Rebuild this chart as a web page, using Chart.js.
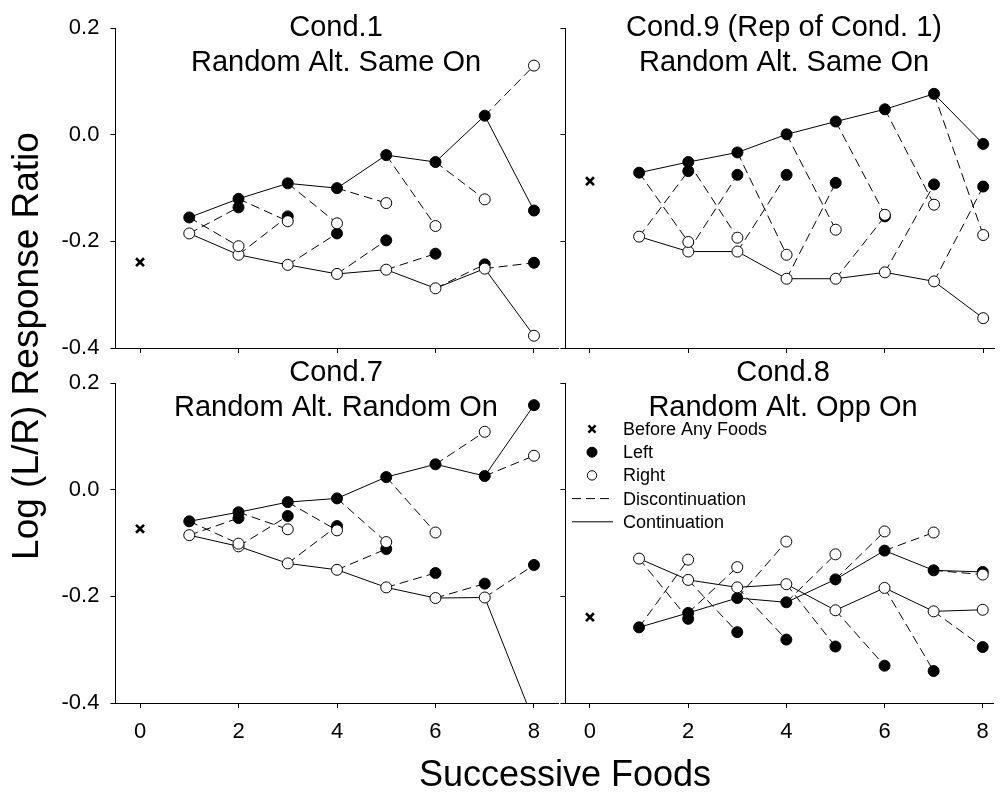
<!DOCTYPE html>
<html lang="en">
<head>
<meta charset="utf-8">
<title>Log (L/R) Response Ratio by Successive Foods</title>
<script src="https://cdn.jsdelivr.net/npm/chart.js@4.4.1/dist/chart.umd.min.js"></script>
<style>
  html, body { margin: 0; padding: 0; background: #fff; }
  #figure { position: relative; width: 1000px; height: 793px; overflow: hidden; background: #fff; }
  #figure canvas { position: absolute; left: 0; top: 0; }
</style>
</head>
<body>
<div id="figure">
  <canvas id="cond1" width="1000" height="793"></canvas>
  <canvas id="cond9" width="1000" height="793"></canvas>
  <canvas id="cond7" width="1000" height="793"></canvas>
  <canvas id="cond8" width="1000" height="793"></canvas>
</div>
<script>
// ---- data ---------------------------------------------------------------
const foods = [1, 2, 3, 4, 5, 6, 7, 8];          // successive foods on a run
const switchFoods = [2, 3, 4, 5, 6, 7, 8];       // foods reached after a switch
const xTickValues = [0, 2, 4, 6, 8];
const yTickValues = [0.2, 0.0, -0.2, -0.4];
const yTickLabels = ['0.2', '0.0', '-0.2', '-0.4'];

// Cond.1  Random Alt. Same On
const cond1Before = -0.239;
const cond1LeftCont = [-0.155, -0.120, -0.091, -0.100, -0.038, -0.051, 0.036, -0.142];
const cond1RightCont = [-0.185, -0.225, -0.244, -0.261, -0.253, -0.288, -0.251, -0.377];
const cond1LeftDisc = [-0.136, -0.153, -0.185, -0.198, -0.223, -0.243, -0.240];
const cond1RightDisc = [-0.209, -0.162, -0.166, -0.128, -0.171, -0.121, 0.130];

// Cond.9  (Rep of Cond. 1)
const cond9Before = -0.087;
const cond9LeftCont = [-0.071, -0.051, -0.033, 0.001, 0.025, 0.048, 0.077, -0.017];
const cond9RightCont = [-0.191, -0.219, -0.219, -0.270, -0.270, -0.258, -0.275, -0.344];
const cond9LeftDisc = [-0.068, -0.075, -0.075, -0.090, -0.153, -0.093, -0.097];
const cond9RightDisc = [-0.201, -0.193, -0.225, -0.178, -0.150, -0.131, -0.188];

// Cond.7  Random Alt. Random On
const cond7Before = -0.073;
const cond7LeftCont = [-0.059, -0.042, -0.023, -0.016, 0.024, 0.048, 0.026, 0.159];
const cond7RightCont = [-0.085, -0.106, -0.138, -0.150, -0.183, -0.203, -0.202, -0.435];
const cond7LeftDisc = [-0.053, -0.049, -0.068, -0.111, -0.156, -0.176, -0.141];
const cond7RightDisc = [-0.101, -0.074, -0.076, -0.098, -0.080, 0.109, 0.064];

// Cond.8  Random Alt. Opp On
const cond8Before = -0.239;
const cond8LeftCont = [-0.258, -0.231, -0.203, -0.211, -0.168, -0.114, -0.151, -0.154];
const cond8RightCont = [-0.129, -0.169, -0.183, -0.177, -0.226, -0.184, -0.228, -0.225];
const cond8LeftDisc = [-0.242, -0.267, -0.281, -0.294, -0.330, -0.340, -0.295];
const cond8RightDisc = [-0.131, -0.145, -0.097, -0.121, -0.078, -0.080, -0.159];

// ---- styling ------------------------------------------------------------
const INK = '#000';
const PAPER = '#fff';
const FONT = "'Liberation Sans', Arial, Helvetica, sans-serif";
const DASH = [9, 5];
const MARK_R = 5.5;

Chart.defaults.font.family = FONT;
Chart.defaults.color = INK;

// Text drawn straight onto a panel's canvas (titles, axis names).
function captionsPlugin(items) {
  return {
    id: 'captions',
    afterDraw(chart) {
      const ctx = chart.ctx;
      items.forEach(it => {
        ctx.save();
        ctx.font = it.size + 'px ' + FONT;
        ctx.fillStyle = INK;
        ctx.textAlign = it.align || 'center';
        ctx.textBaseline = it.baseline || 'alphabetic';
        ctx.translate(it.x, it.y);
        if (it.angle) ctx.rotate(it.angle);
        ctx.fillText(it.text, 0, 0);
        ctx.restore();
      });
    }
  };
}

// Key listing marker and line meanings.
function keyPlugin(key) {
  return {
    id: 'key',
    afterDatasetsDraw(chart) {
      const ctx = chart.ctx;
      key.items.forEach((it, i) => {
        const y = key.y0 + i * key.step;
        ctx.save();
        ctx.strokeStyle = INK;
        ctx.fillStyle = it.fill || INK;
        ctx.lineWidth = it.width || 1;
        if (it.line) {
          ctx.setLineDash(it.dash || []);
          ctx.beginPath();
          ctx.moveTo(key.lineX0, y);
          ctx.lineTo(key.lineX1, y);
          ctx.stroke();
        } else {
          Chart.helpers.drawPoint(ctx, {
            pointStyle: it.style, radius: it.radius, borderWidth: it.width || 1, rotation: 0
          }, key.markX, y);
        }
        ctx.setLineDash([]);
        ctx.font = key.size + 'px ' + FONT;
        ctx.fillStyle = INK;
        ctx.textAlign = 'left';
        ctx.textBaseline = 'middle';
        ctx.fillText(it.text, key.textX, y + 1);
        ctx.restore();
      });
    }
  };
}

function buildDatasets(s) {
  const pairs = (xs, ys) => xs.map((x, i) => ({ x: x, y: ys[i] }));
  // one dashed stroke from a run's food to the switched food that follows it
  const links = (fromYs, toYs) => {
    const out = [];
    switchFoods.forEach((f, i) => {
      out.push({ x: f - 1, y: fromYs[i] }, { x: f, y: toYs[i] }, { x: f, y: null });
    });
    return out;
  };
  const lineBase = { showLine: true, pointRadius: 0, borderColor: INK, borderWidth: 1, spanGaps: false, clip: 0 };
  return [
    { label: 'Right', data: pairs(foods, s.rightCont).concat(pairs(switchFoods, s.rightDisc)),
      showLine: false, pointStyle: 'circle', pointRadius: MARK_R, pointBackgroundColor: PAPER,
      pointBorderColor: INK, pointBorderWidth: 1, clip: 0 },
    { label: 'Left', data: pairs(foods, s.leftCont).concat(pairs(switchFoods, s.leftDisc)),
      showLine: false, pointStyle: 'circle', pointRadius: MARK_R, pointBackgroundColor: INK,
      pointBorderColor: INK, pointBorderWidth: 1, clip: 0 },
    { label: 'Before Any Foods', data: [{ x: 0, y: s.before }],
      showLine: false, pointStyle: 'crossRot', pointRadius: 5.6, pointBackgroundColor: INK,
      pointBorderColor: INK, pointBorderWidth: 2.6, clip: 0 },
    Object.assign({ label: 'Left continuation', data: pairs(foods, s.leftCont) }, lineBase),
    Object.assign({ label: 'Right continuation', data: pairs(foods, s.rightCont) }, lineBase),
    Object.assign({ label: 'Left to right', data: links(s.leftCont, s.rightDisc), borderDash: DASH }, lineBase),
    Object.assign({ label: 'Right to left', data: links(s.rightCont, s.leftDisc), borderDash: DASH }, lineBase)
  ];
}

const axisLook = {
  grid: { drawOnChartArea: false, drawTicks: true, tickLength: 5, color: INK, lineWidth: 1 },
  border: { display: true, color: INK, width: 1 }
};

const W = 1000, H = 793;
const TITLE_SIZE = 29;

// Axis boxes keep room for their labels (labels are clipped to the box).
function axisSizes(p) {
  return {
    yWidth: p.yLabels ? p.area.left : 0,
    xHeight: p.xLabels ? H - p.area.bottom : 0
  };
}

function buildScales(p) {
  const sz = axisSizes(p);
  return {
    x: Object.assign({
      type: 'linear', position: 'bottom', min: -0.5, max: p.xMax,
      afterFit(scale) { scale.height = sz.xHeight; },
      afterBuildTicks(scale) { scale.ticks = xTickValues.map(v => ({ value: v })); },
      ticks: { display: p.xLabels, font: { size: 22 }, padding: 11, color: INK,
               maxRotation: 0, autoSkip: false, callback: v => String(v) }
    }, axisLook),
    y: Object.assign({
      type: 'linear', position: 'left', min: -0.4, max: 0.2,
      afterFit(scale) { scale.width = sz.yWidth; },
      afterBuildTicks(scale) { scale.ticks = yTickValues.map(v => ({ value: v })); },
      ticks: { display: p.yLabels, font: { size: 22 }, padding: 11, color: INK,
               callback: v => yTickLabels[yTickValues.indexOf(v)] }
    }, axisLook)
  };
}

const panels = [
  { canvas: 'cond1', title: ['Cond.1', 'Random Alt. Same On'], titleX: 336, titleBase: [36, 71],
    area: { left: 115.4, top: 28.3, right: 558.6, bottom: 348 }, xMax: 8.5, xLabels: false, yLabels: true,
    series: { before: cond1Before, leftCont: cond1LeftCont, rightCont: cond1RightCont, leftDisc: cond1LeftDisc, rightDisc: cond1RightDisc } },
  { canvas: 'cond9', title: ['Cond.9 (Rep of Cond. 1)', 'Random Alt. Same On'], titleX: 784, titleBase: [36, 71],
    area: { left: 565.4, top: 28.3, right: 994, bottom: 348 }, xMax: 8.22, xLabels: false, yLabels: false,
    series: { before: cond9Before, leftCont: cond9LeftCont, rightCont: cond9RightCont, leftDisc: cond9LeftDisc, rightDisc: cond9RightDisc } },
  { canvas: 'cond7', title: ['Cond.7', 'Random Alt. Random On'], titleX: 336, titleBase: [381, 416],
    area: { left: 115.4, top: 383.3, right: 558.6, bottom: 703 }, xMax: 8.5, xLabels: true, yLabels: true,
    series: { before: cond7Before, leftCont: cond7LeftCont, rightCont: cond7RightCont, leftDisc: cond7LeftDisc, rightDisc: cond7RightDisc } },
  { canvas: 'cond8', title: ['Cond.8', 'Random Alt. Opp On'], titleX: 783, titleBase: [381, 416],
    area: { left: 565.4, top: 383.3, right: 994, bottom: 703 }, xMax: 8.22, xLabels: true, yLabels: false,
    series: { before: cond8Before, leftCont: cond8LeftCont, rightCont: cond8RightCont, leftDisc: cond8LeftDisc, rightDisc: cond8RightDisc } }
];

panels.forEach((p, idx) => {
  const items = p.title.map((t, i) => ({ text: t, x: p.titleX, y: p.titleBase[i], size: TITLE_SIZE }));
  if (idx === 0) {
    items.push({ text: 'Log (L/R) Response Ratio', x: 37.6, y: 346, size: 37, angle: -Math.PI / 2 });
    items.push({ text: 'Successive Foods', x: 565, y: 786, size: 36 });
  }
  const plugins = [captionsPlugin(items)];
  if (idx === 3) {
    plugins.push(keyPlugin({
      markX: 592, lineX0: 572, lineX1: 613, textX: 623, y0: 429, step: 23.2, size: 18,
      items: [
        { text: 'Before Any Foods', style: 'crossRot', radius: 5, width: 2.4 },
        { text: 'Left', style: 'circle', radius: 5, fill: INK },
        { text: 'Right', style: 'circle', radius: 4.7, fill: PAPER },
        { text: 'Discontinuation', line: true, dash: DASH },
        { text: 'Continuation', line: true }
      ]
    }));
  }
  const sz = axisSizes(p);
  new Chart(document.getElementById(p.canvas), {
    type: 'scatter',
    data: { datasets: buildDatasets(p.series) },
    options: {
      responsive: false,
      animation: false,
      events: [],
      layout: {
        autoPadding: false,
        padding: {
          left: p.area.left - sz.yWidth,
          top: p.area.top,
          right: W - p.area.right,
          bottom: H - p.area.bottom - sz.xHeight
        }
      },
      scales: buildScales(p),
      plugins: { legend: { display: false }, tooltip: { enabled: false }, title: { display: false } }
    },
    plugins: plugins
  });
});
</script>
</body>
</html>
